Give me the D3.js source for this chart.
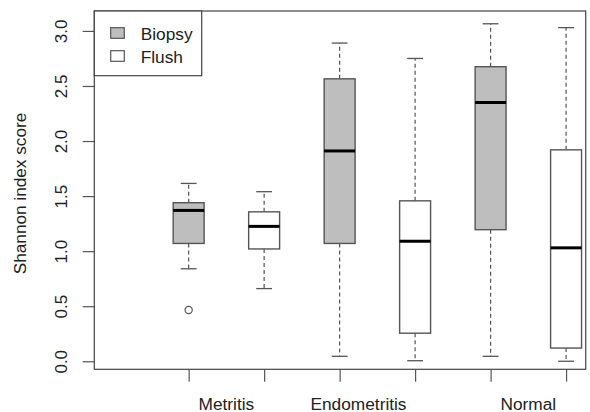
<!DOCTYPE html>
<html>
<head>
<meta charset="utf-8">
<script src="https://cdn.jsdelivr.net/npm/d3@7"></script>
<style>
  html, body { margin: 0; padding: 0; background: #fff; }
  svg { display: block; font-family: "Liberation Sans", Arial, sans-serif; }
</style>
</head>
<body>
<svg id="chart" width="590" height="412"></svg>
<script>
// ---- data ----
const groups = ["Metritis", "Endometritis", "Normal"];
const series = ["Biopsy", "Flush"];
const groupLabelAt = [1.5, 3.25, 5.5];
const yTicks = [0.0, 0.5, 1.0, 1.5, 2.0, 2.5, 3.0];

const biopsyLow    = [0.84, 0.045, 0.045];
const biopsyQ1     = [1.07, 1.07, 1.195];
const biopsyMedian = [1.37, 1.91, 2.35];
const biopsyQ3     = [1.44, 2.565, 2.675];
const biopsyHigh   = [1.615, 2.89, 3.065];
const biopsyOutliers = [[0.465], [], []];

const flushLow    = [0.66, 0.005, 0.0];
const flushQ1     = [1.02, 0.255, 0.12];
const flushMedian = [1.225, 1.09, 1.03];
const flushQ3     = [1.357, 1.457, 1.92];
const flushHigh   = [1.54, 2.75, 3.03];
const flushOutliers = [[], [], []];

// ---- build table ----
const boxes = [];
groups.forEach((g, i) => {
  boxes.push({ group: g, series: "Biopsy", pos: i * 2 + 1,
    lo: biopsyLow[i], q1: biopsyQ1[i], med: biopsyMedian[i], q3: biopsyQ3[i], hi: biopsyHigh[i], out: biopsyOutliers[i] });
  boxes.push({ group: g, series: "Flush", pos: i * 2 + 2,
    lo: flushLow[i], q1: flushQ1[i], med: flushMedian[i], q3: flushQ3[i], hi: flushHigh[i], out: flushOutliers[i] });
});
const fillColor = { Biopsy: "#bebebe", Flush: "#ffffff" };

// ---- layout ----
const L = 94.3, R = 585.7, T = 11, B = 369.3;
const svg = d3.select("#chart");
const x = d3.scaleLinear().domain([-0.25, 6.26]).range([L, R]);
const y = d3.scaleLinear().domain([-0.073, 3.181]).range([B, T]);
const boxW = 0.41, stapleW = 0.21;
const lineCol = "#555";
const textCol = "#222";

// boxes
const g = svg.append("g");
boxes.forEach(d => {
  const cx = x(d.pos);
  const hw = (x(boxW) - x(0)) / 2;
  const sw = (x(stapleW) - x(0)) / 2;
  // whiskers
  g.append("line").attr("x1", cx).attr("x2", cx).attr("y1", y(d.q3)).attr("y2", y(d.hi))
    .attr("stroke", lineCol).attr("stroke-width", 1.2).attr("stroke-dasharray", "4,3");
  g.append("line").attr("x1", cx).attr("x2", cx).attr("y1", y(d.q1)).attr("y2", y(d.lo))
    .attr("stroke", lineCol).attr("stroke-width", 1.2).attr("stroke-dasharray", "4,3");
  // staples
  g.append("line").attr("x1", cx - sw).attr("x2", cx + sw).attr("y1", y(d.hi)).attr("y2", y(d.hi))
    .attr("stroke", lineCol).attr("stroke-width", 1.3);
  g.append("line").attr("x1", cx - sw).attr("x2", cx + sw).attr("y1", y(d.lo)).attr("y2", y(d.lo))
    .attr("stroke", lineCol).attr("stroke-width", 1.3);
  // box
  g.append("rect").attr("x", cx - hw).attr("width", 2 * hw)
    .attr("y", y(d.q3)).attr("height", y(d.q1) - y(d.q3))
    .attr("fill", fillColor[d.series]).attr("stroke", lineCol).attr("stroke-width", 1.4);
  // median
  g.append("line").attr("x1", cx - hw).attr("x2", cx + hw).attr("y1", y(d.med)).attr("y2", y(d.med))
    .attr("stroke", "#000").attr("stroke-width", 3);
  // outliers
  d.out.forEach(v => {
    g.append("circle").attr("cx", cx).attr("cy", y(v)).attr("r", 3.6)
      .attr("fill", "none").attr("stroke", lineCol).attr("stroke-width", 1.2);
  });
});

// y axis
const yAxis = svg.append("g").attr("transform", `translate(${L},0)`)
  .call(d3.axisLeft(y).tickValues(yTicks).tickSize(11.6).tickFormat(d3.format(".1f")));
yAxis.select(".domain").remove();
yAxis.selectAll(".tick line").attr("stroke", lineCol).attr("stroke-width", 1.2);
yAxis.selectAll(".tick text")
  .attr("x", null).attr("dy", null)
  .attr("transform", "translate(-27,0) rotate(-90)")
  .attr("text-anchor", "middle")
  .attr("font-size", 17)
  .attr("fill", textCol)
  .style("font-family", '"Liberation Sans", Arial, sans-serif');

// x axis
const xAxis = svg.append("g").attr("transform", `translate(0,${B})`)
  .call(d3.axisBottom(x).tickValues(boxes.map(d => d.pos)).tickSize(12.4).tickFormat(""));
xAxis.select(".domain").remove();
xAxis.selectAll(".tick line").attr("stroke", lineCol).attr("stroke-width", 1.2);

// group labels
svg.append("g").selectAll("text").data(groups).join("text")
  .attr("x", (d, i) => x(groupLabelAt[i]))
  .attr("y", 409.5)
  .attr("text-anchor", "middle")
  .attr("font-size", 17.3)
  .attr("fill", textCol)
  .text(d => d);

// y label
svg.append("text")
  .attr("transform", `translate(26,${(113 + 274) / 2}) rotate(-90)`)
  .attr("text-anchor", "middle")
  .attr("font-size", 17.2)
  .attr("fill", textCol)
  .text("Shannon index score");

// frame
svg.append("rect").attr("x", L).attr("y", T).attr("width", R - L).attr("height", B - T)
  .attr("fill", "none").attr("stroke", "#444").attr("stroke-width", 1.2);

// legend
const lg = svg.append("g");
lg.append("rect").attr("x", L).attr("y", T).attr("width", 201.7 - L).attr("height", 75.7 - T)
  .attr("fill", "#fff").attr("stroke", "#444").attr("stroke-width", 1.2);
series.forEach((s, i) => {
  lg.append("rect").attr("x", 110.7).attr("y", 27.7 + i * 23).attr("width", 13.6).attr("height", 10.6)
    .attr("fill", fillColor[s]).attr("stroke", lineCol).attr("stroke-width", 1.2);
  lg.append("text").attr("x", 140.7).attr("y", 39.5 + i * 23)
    .attr("font-size", 17.3).attr("fill", textCol).text(s);
});
</script>
</body>
</html>
